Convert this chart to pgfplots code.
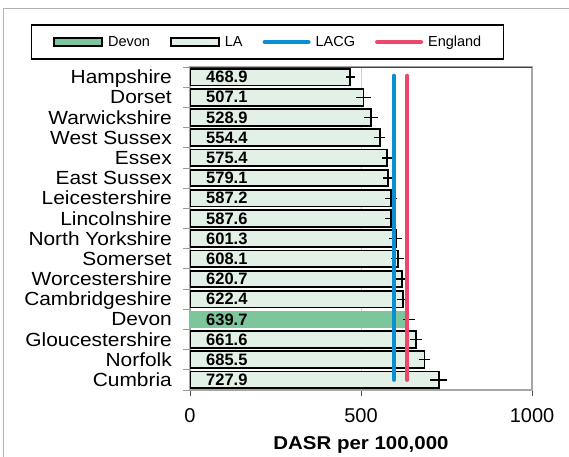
\documentclass[border=0pt]{standalone}
\usepackage{fontspec}
\setmainfont{Liberation Sans}
\newfontfamily\wide[FakeStretch=1.1]{Liberation Sans}
\usepackage{pgfplots}
\pgfplotsset{compat=1.18}
\definecolor{lagreen}{HTML}{E3F0E6}
\definecolor{devongreen}{HTML}{7DC59A}
\definecolor{lacgblue}{HTML}{0A90D2}
\definecolor{engred}{HTML}{EF4769}
\newcommand{\lgf}{\fontsize{14.5}{16}\selectfont}
\begin{document}
\begin{tikzpicture}[x=1pt,y=1pt]
\useasboundingbox (0,0) rectangle (569,456);
\clip (0,0) rectangle (569,456);
\draw[gray!60, line width=1pt] (3,-10) rectangle (590,447);
\begin{axis}[
  at={(190pt,66pt)}, anchor=south west,
  scale only axis, width=342pt, height=323pt,
  xmin=0, xmax=1000, ymin=-0.5, ymax=15.5, y dir=reverse,
  /pgf/number format/assume math mode=true,
  /pgf/number format/1000 sep={},
  xtick={0,500,1000},
  ytick={0,...,15},
  yticklabels={Hampshire,Dorset,Warwickshire,West Sussex,Essex,East Sussex,Leicestershire,Lincolnshire,North Yorkshire,Somerset,Worcestershire,Cambridgeshire,Devon,Gloucestershire,Norfolk,Cumbria},
  minor ytick={-0.5,0.5,...,15.5},
  tick pos=left,
  tick align=outside,
  major tick length=6pt, minor tick length=7pt,
  ytick style={draw=none},
  minor y tick style={draw=gray!80, line width=0.8pt},
  xtick style={draw=black!70, line width=0.8pt},
  xmajorgrids, grid style={gray!35, line width=0.8pt},
  axis line style={gray!70, line width=1.2pt},
  tick label style={font=\fontsize{20}{22}\selectfont},
  yticklabel style={font=\wide\fontsize{19}{21}\selectfont, anchor=base east, yshift=-6.6pt, xshift=-12pt, inner sep=0pt},
  xticklabel style={anchor=base, inner sep=0pt, yshift=-26pt},
  xlabel={\bfseries DASR per 100,000},
  xlabel style={font=\wide\fontsize{18.6}{20}\selectfont, at={(axis description cs:0.5,-0.1827)}, anchor=base},
  legend columns=4,
  legend style={at={(axis description cs:-0.4658,1.1322)}, anchor=north west,
    draw=black, line width=1.3pt, font=\lgf,
    inner xsep=22pt, inner ysep=11pt,
    nodes={inner sep=0pt, font=\lgf},
    /tikz/every odd column/.append style={column sep=5pt},
    /tikz/every even column/.append style={column sep=20pt}},
]
\addplot[xbar, bar width=16.7pt, bar shift=0pt, fill=devongreen, draw=none,
  legend image code/.code={\draw[fill=devongreen, draw=black, line width=1.8pt] (0pt,-4pt) rectangle (48pt,4pt);},
  error bars/.cd, x dir=both, x explicit, error mark=none,
  error bar style={line width=1.3pt, black}]
  coordinates {(639.7,12) +- (18,0)};
\addlegendentry{\lgf Devon}
\addplot[xbar, bar width=16.7pt, bar shift=0pt, fill=lagreen, draw=black, line width=1.8pt,
  legend image code/.code={\draw[fill=lagreen, draw=black, line width=1.8pt] (0pt,-4pt) rectangle (48pt,4pt);},
  error bars/.cd, x dir=both, x explicit, error mark=none,
  error bar style={line width=1.3pt, black}]
  coordinates {
  (468.9,0) +- (13,0)
  (507.1,1) +- (21,0)
  (528.9,2) +- (20,0)
  (554.4,3) +- (15,0)
  (575.4,4) +- (14,0)
  (579.1,5) +- (14,0)
  (587.2,6) +- (17,0)
  (587.6,7) +- (16,0)
  (601.3,8) +- (19,0)
  (608.1,9) +- (19,0)
  (620.7,10) +- (17,0)
  (622.4,11) +- (18,0)
  (661.6,13) +- (17,0)
  (685.5,14) +- (17,0)
  (727.9,15) +- (25,0)
  };
\addlegendentry{\lgf LA}
\addplot[lacgblue, line width=4pt, line cap=round,
  legend image code/.code={\draw[lacgblue, line width=4pt, line cap=round] (2pt,0pt) -- (46pt,0pt);}]
  coordinates {(597,-0.07) (597,15.0)};
\addlegendentry{\lgf LACG}
\addplot[engred, line width=4pt, line cap=round,
  legend image code/.code={\draw[engred, line width=4pt, line cap=round] (2pt,0pt) -- (46pt,0pt);}]
  coordinates {(635,-0.07) (635,15.0)};
\addlegendentry{\lgf England}
\addplot[only marks, mark=none, forget plot, nodes near coords, point meta=explicit symbolic,
  nodes near coords style={anchor=west, font=\bfseries\fontsize{16.5}{18}\selectfont, inner sep=0pt, xshift=16pt, text=black}]
  coordinates {
  (0,0) [468.9] (0,1) [507.1] (0,2) [528.9] (0,3) [554.4] (0,4) [575.4] (0,5) [579.1]
  (0,6) [587.2] (0,7) [587.6] (0,8) [601.3] (0,9) [608.1] (0,10) [620.7] (0,11) [622.4]
  (0,12) [639.7] (0,13) [661.6] (0,14) [685.5] (0,15) [727.9]
  };
\draw[black!75, line width=1.2pt] (rel axis cs:0,1) -- (rel axis cs:1,1);
\end{axis}
\end{tikzpicture}
\end{document}
